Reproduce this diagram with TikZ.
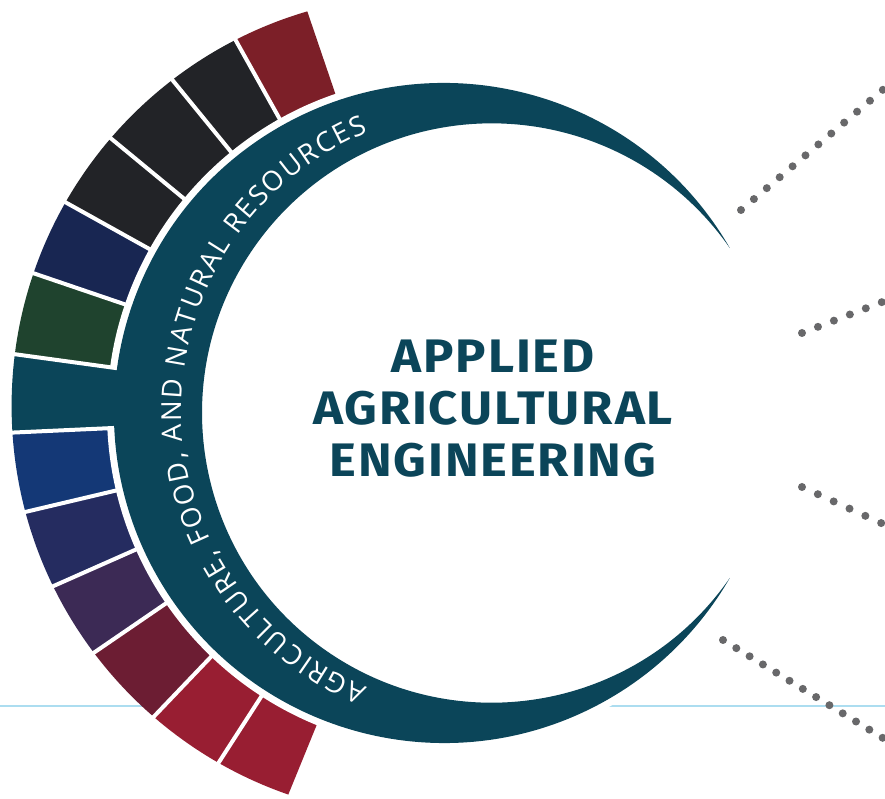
\documentclass[tikz,border=0pt]{standalone}
\usepackage{fontspec}
\usetikzlibrary{decorations.text}

\newfontfamily\titlefont{Fira Sans}[FakeStretch=1.08, LetterSpace=4]
\newfontfamily\ringfont{Open Sans}

\definecolor{ringteal}{RGB}{11,69,89}
\definecolor{segmaroon}{RGB}{124,31,40}
\definecolor{segblack}{RGB}{34,35,39}
\definecolor{segnavy}{RGB}{24,38,82}
\definecolor{seggreen}{RGB}{31,67,46}
\definecolor{segblue}{RGB}{20,56,118}
\definecolor{segindigo}{RGB}{37,44,96}
\definecolor{segpurple}{RGB}{60,42,85}
\definecolor{segwine}{RGB}{108,29,51}
\definecolor{segred}{RGB}{152,30,50}
\definecolor{dotgrey}{RGB}{104,104,106}
\definecolor{rulecyan}{RGB}{172,221,240}

\begin{document}
\begin{tikzpicture}[
        x=1pt,y=1pt,
        gapline/.style={white, line width=4pt},
        dotline/.style={dotgrey, line width=8pt, line cap=round, dash pattern=on 0pt off #1},
        titletext/.style={font=\titlefont\bfseries\fontsize{47}{52}\selectfont, text=ringteal, align=center, inner sep=0pt},
    ]
    \fill[white] (0,0) rectangle (885,799);
    \clip (0,0) rectangle (885,799);

    \coordinate (hub) at (444,386);
    \coordinate (rim) at (422.6,393);
    \coordinate (eye) at (491.7,386);
    \coordinate (script) at (481.5,389);

    % thin rule behind the wheel
    \coordinate (ruleL) at (0,93);
    \coordinate (ruleR) at (885,93);
    \draw[rulecyan, line width=1.5pt] (ruleL) -- (ruleR);

    % coloured segments
    \begin{scope}
        \clip (rim) circle (411);
        \foreach \a/\b/\c in {108.8/119.2/segmaroon, 119.2/129.2/segblack, 129.2/140.5/segblack,
                140.5/150.9/segblack, 150.9/161.2/segnavy, 161.2/172.2/seggreen, 172.2/182.6/ringteal,
                182.6/193.3/segblue, 193.3/203.9/segindigo, 203.9/214.4/segpurple, 214.4/226.3/segwine,
                226.3/237.2/segred, 237.2/247.8/segred}
            \fill[\c] (hub) -- ++(\a:460) arc[start angle=\a, end angle=\b, radius=460] -- cycle;
    \end{scope}
    \fill[white] (hub) circle (337);
    \fill[ringteal] (hub) ++(172.2:325) arc[start angle=172.2, end angle=182.6, radius=325]
        -- ++(182.6:20) arc[start angle=182.6, end angle=172.2, radius=345] -- cycle;
    \foreach \a in {119.2,129.2,140.5,150.9,161.2,172.2,182.6,193.3,203.9,214.4,226.3,237.2}
        \draw[gapline] (hub) ++(\a:330) -- ++(\a:130);

    % crescent
    \fill[ringteal] (hub) ++(30:330) arc[start angle=30, end angle=330, radius=330]
        arc[start angle=325.28, end angle=34.72, radius=289.68] -- cycle;

    \path[decorate, decoration={text along path, text align=fit to path,
            text={|\ringfont\fontsize{27.5}{27.5}\selectfont\color{white}|AGRICULTURE, FOOD, AND NATURAL RESOURCES}}]
        (script) ++(247.6:300) arc[start angle=247.6, end angle=112.2, radius=300];

    \node[titletext] (title) at (493,390.5) {APPLIED\\AGRICULTURAL\\ENGINEERING};

    % dotted leaders
    \coordinate (lead1s) at (741,589);
    \coordinate (lead1e) at (898,722);
    \coordinate (lead2s) at (802,466);
    \coordinate (lead2e) at (892,500.8);
    \coordinate (lead3s) at (802,312);
    \coordinate (lead3e) at (892,271);
    \coordinate (lead4s) at (723,159);
    \coordinate (lead4e) at (895,53.6);
    \draw[dotline=16.9pt] (lead1s) -- (lead1e);
    \draw[dotline=17.1pt] (lead2s) -- (lead2e);
    \draw[dotline=17.4pt] (lead3s) -- (lead3e);
    \draw[dotline=15.6pt] (lead4s) -- (lead4e);
\end{tikzpicture}
\end{document}
